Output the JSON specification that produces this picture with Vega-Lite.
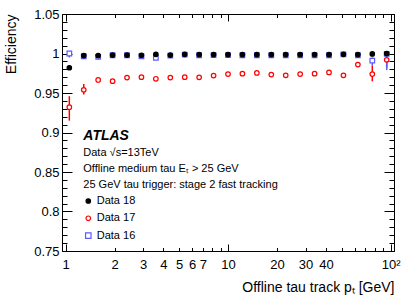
{
  "$schema": "https://vega.github.io/schema/vega-lite/v6.json",
  "width": 332,
  "height": 237,
  "autosize": {"type": "none"},
  "padding": {"left": 62, "top": 14, "right": 21, "bottom": 47},
  "config": {
    "view": {"stroke": null},
    "font": "Liberation Sans",
    "axis": {"grid": false, "domainColor": "black", "tickColor": "black", "labelColor": "black", "titleColor": "black", "domainWidth": 1, "tickWidth": 1, "labelFont": "Liberation Sans", "titleFont": "Liberation Sans", "titleFontWeight": "normal", "labelOverlap": false, "labelFlush": false}
  },
  "data": {"values": [
    {"series": "Data 17", "pt": 1.054, "eff": 0.932, "lo": 0.915, "hi": 0.946},
    {"series": "Data 17", "pt": 1.293, "eff": 0.954, "lo": 0.948, "hi": 0.9615},
    {"series": "Data 17", "pt": 1.586, "eff": 0.9665},
    {"series": "Data 17", "pt": 1.946, "eff": 0.965},
    {"series": "Data 17", "pt": 2.387, "eff": 0.9695},
    {"series": "Data 17", "pt": 2.929, "eff": 0.970},
    {"series": "Data 17", "pt": 3.593, "eff": 0.968},
    {"series": "Data 17", "pt": 4.409, "eff": 0.9695},
    {"series": "Data 17", "pt": 5.409, "eff": 0.970},
    {"series": "Data 17", "pt": 6.636, "eff": 0.9698},
    {"series": "Data 17", "pt": 8.142, "eff": 0.972},
    {"series": "Data 17", "pt": 9.99, "eff": 0.974},
    {"series": "Data 17", "pt": 12.25, "eff": 0.9745},
    {"series": "Data 17", "pt": 15.03, "eff": 0.9754},
    {"series": "Data 17", "pt": 18.45, "eff": 0.9733},
    {"series": "Data 17", "pt": 22.63, "eff": 0.9724},
    {"series": "Data 17", "pt": 27.77, "eff": 0.974},
    {"series": "Data 17", "pt": 34.07, "eff": 0.9745},
    {"series": "Data 17", "pt": 41.8, "eff": 0.976},
    {"series": "Data 17", "pt": 51.28, "eff": 0.9724},
    {"series": "Data 17", "pt": 62.92, "eff": 0.986},
    {"series": "Data 17", "pt": 77.2, "eff": 0.974, "lo": 0.9648, "hi": 0.985},
    {"series": "Data 17", "pt": 94.69, "eff": 0.992, "lo": 0.982, "hi": 0.9965},
    {"series": "Data 16", "pt": 1.054, "eff": 1.0, "lo": 0.995, "hi": 1.0},
    {"series": "Data 16", "pt": 1.293, "eff": 0.9965},
    {"series": "Data 16", "pt": 1.586, "eff": 0.9957},
    {"series": "Data 16", "pt": 1.946, "eff": 0.9978},
    {"series": "Data 16", "pt": 2.387, "eff": 0.9978},
    {"series": "Data 16", "pt": 2.929, "eff": 0.9965},
    {"series": "Data 16", "pt": 3.593, "eff": 0.9944},
    {"series": "Data 16", "pt": 4.409, "eff": 0.9974},
    {"series": "Data 16", "pt": 5.409, "eff": 0.9986},
    {"series": "Data 16", "pt": 6.636, "eff": 0.9978},
    {"series": "Data 16", "pt": 8.142, "eff": 0.998},
    {"series": "Data 16", "pt": 9.99, "eff": 0.998},
    {"series": "Data 16", "pt": 12.25, "eff": 0.9978},
    {"series": "Data 16", "pt": 15.03, "eff": 0.9978},
    {"series": "Data 16", "pt": 18.45, "eff": 0.9978},
    {"series": "Data 16", "pt": 22.63, "eff": 0.9978},
    {"series": "Data 16", "pt": 27.77, "eff": 0.9978},
    {"series": "Data 16", "pt": 34.07, "eff": 0.9978},
    {"series": "Data 16", "pt": 41.8, "eff": 0.9978},
    {"series": "Data 16", "pt": 51.28, "eff": 0.9988},
    {"series": "Data 16", "pt": 62.92, "eff": 0.9978},
    {"series": "Data 16", "pt": 77.2, "eff": 0.991, "lo": 0.985, "hi": 0.995},
    {"series": "Data 16", "pt": 94.69, "eff": 0.9995, "lo": 0.979, "hi": 1.0},
    {"series": "Data 18", "pt": 1.054, "eff": 0.982},
    {"series": "Data 18", "pt": 1.293, "eff": 0.9974},
    {"series": "Data 18", "pt": 1.586, "eff": 0.9974},
    {"series": "Data 18", "pt": 1.946, "eff": 0.998},
    {"series": "Data 18", "pt": 2.387, "eff": 0.998},
    {"series": "Data 18", "pt": 2.929, "eff": 0.9978},
    {"series": "Data 18", "pt": 3.593, "eff": 0.999},
    {"series": "Data 18", "pt": 4.409, "eff": 0.998},
    {"series": "Data 18", "pt": 5.409, "eff": 0.999},
    {"series": "Data 18", "pt": 6.636, "eff": 0.9986},
    {"series": "Data 18", "pt": 8.142, "eff": 0.9986},
    {"series": "Data 18", "pt": 9.99, "eff": 0.9986},
    {"series": "Data 18", "pt": 12.25, "eff": 0.9986},
    {"series": "Data 18", "pt": 15.03, "eff": 0.9986},
    {"series": "Data 18", "pt": 18.45, "eff": 0.9986},
    {"series": "Data 18", "pt": 22.63, "eff": 0.9986},
    {"series": "Data 18", "pt": 27.77, "eff": 0.9986},
    {"series": "Data 18", "pt": 34.07, "eff": 0.9986},
    {"series": "Data 18", "pt": 41.8, "eff": 0.9986},
    {"series": "Data 18", "pt": 51.28, "eff": 0.999},
    {"series": "Data 18", "pt": 62.92, "eff": 0.9986},
    {"series": "Data 18", "pt": 77.2, "eff": 0.9995},
    {"series": "Data 18", "pt": 94.69, "eff": 1.0}
  ]},
  "layer": [
    {
      "transform": [{"filter": "isValid(datum.lo)"}],
      "mark": {"type": "rule", "strokeWidth": 1.5},
      "encoding": {
        "x": {"field": "pt", "type": "quantitative",
          "scale": {"type": "log", "domain": [0.95, 105], "nice": false},
          "axis": {"orient": "bottom", "values": [1,2,3,4,5,6,7,8,9,10,20,30,40,50,60,70,80,90,100], "tickSize": -3.5, "labelPadding": 10.5, "labelFontSize": 13,
            "labelExpr": "datum.value == 100 ? '10²' : (indexof([1,2,3,4,5,6,7,10,20,30,40], datum.value) >= 0 ? '' + datum.value : '')",
            "title": "Offline tau track pₜ [GeV]", "titleAnchor": "end", "titleFontSize": 14, "titlePadding": 9}},
        "y": {"field": "lo", "type": "quantitative",
          "scale": {"domain": [0.75, 1.05], "nice": false, "zero": false},
          "axis": {"orient": "left", "values": [0.75, 0.8, 0.85, 0.9, 0.95, 1, 1.05], "format": "~g", "tickSize": -10, "labelPadding": 13, "labelFontSize": 13,
            "title": "Efficiency", "titleAnchor": "end", "titleFontSize": 14, "titlePadding": 15}},
        "y2": {"field": "hi"},
        "stroke": {"field": "series", "type": "nominal", "legend": null,
          "scale": {"domain": ["Data 18", "Data 17", "Data 16"], "range": ["#000000", "#ff0000", "#5b5bff"]}}
      }
    },
    {
      "mark": {"type": "point", "filled": true, "opacity": 1, "strokeWidth": 1.2},
      "encoding": {
        "x": {"field": "pt", "type": "quantitative",
          "axis": {"orient": "bottom", "values": [1, 10, 100], "tickSize": -7, "labels": false, "title": null}},
        "y": {"field": "eff", "type": "quantitative",
          "axis": {"orient": "left", "values": [0.76,0.77,0.78,0.79,0.81,0.82,0.83,0.84,0.86,0.87,0.88,0.89,0.91,0.92,0.93,0.94,0.96,0.97,0.98,0.99,1.01,1.02,1.03,1.04], "tickSize": -5, "labels": false, "title": null}},
        "stroke": {"field": "series", "type": "nominal", "legend": null},
        "fill": {"field": "series", "type": "nominal", "legend": null,
          "scale": {"domain": ["Data 18", "Data 17", "Data 16"], "range": ["#000000", "#ffffff", "#ffffff"]}},
        "shape": {"field": "series", "type": "nominal", "legend": null,
          "scale": {"domain": ["Data 18", "Data 17", "Data 16"], "range": ["circle", "circle", "square"]}},
        "size": {"field": "series", "type": "nominal", "legend": null,
          "scale": {"domain": ["Data 18", "Data 17", "Data 16"], "range": [20, 21, 30]}}
      }
    },
    {
      "data": {"values": [{}]},
      "mark": {"type": "text", "font": "Liberation Sans", "fontSize": 14, "fontWeight": "bold", "fontStyle": "italic", "align": "left", "baseline": "alphabetic", "color": "black"},
      "encoding": {
        "x": {"datum": 1.285, "type": "quantitative",
          "axis": {"orient": "top", "values": [1,2,3,4,5,6,7,8,9,10,20,30,40,50,60,70,80,90,100], "tickSize": -3.5, "labels": false, "title": null}},
        "y": {"datum": 0.8905, "type": "quantitative",
          "axis": {"orient": "right", "values": [0.75, 0.8, 0.85, 0.9, 0.95, 1, 1.05], "tickSize": -10, "labels": false, "title": null}},
        "text": {"value": "ATLAS"}
      }
    },
    {
      "data": {"values": [{}]},
      "mark": {"type": "text", "font": "Liberation Sans", "fontSize": 11, "align": "left", "baseline": "alphabetic", "lineHeight": 16.2, "color": "black"},
      "encoding": {
        "x": {"datum": 1.285, "type": "quantitative",
          "axis": {"orient": "top", "values": [1, 10, 100], "tickSize": -7, "labels": false, "title": null}},
        "y": {"datum": 0.8703, "type": "quantitative",
          "axis": {"orient": "right", "values": [0.76,0.77,0.78,0.79,0.81,0.82,0.83,0.84,0.86,0.87,0.88,0.89,0.91,0.92,0.93,0.94,0.96,0.97,0.98,0.99,1.01,1.02,1.03,1.04], "tickSize": -5, "labels": false, "title": null}},
        "text": {"value": ["Data √s=13TeV", "Offline medium tau Eₜ > 25 GeV", "25 GeV tau trigger: stage 2 fast tracking"]}
      }
    },
    {
      "data": {"values": [{}]},
      "mark": {"type": "text", "font": "Liberation Sans", "fontSize": 11, "align": "left", "baseline": "alphabetic", "lineHeight": 17.5, "color": "black"},
      "encoding": {
        "x": {"datum": 1.554, "type": "quantitative", "axis": null},
        "y": {"datum": 0.8095, "type": "quantitative", "axis": null},
        "text": {"value": ["Data 18", "Data 17", "Data 16"]}
      }
    },
    {
      "data": {"values": [{}]},
      "mark": {"type": "point", "shape": "circle", "filled": true, "opacity": 1, "size": 20, "strokeWidth": 1.2, "fill": "#000000", "stroke": "#000000"},
      "encoding": {
        "x": {"datum": 1.379, "type": "quantitative", "axis": null},
        "y": {"datum": 0.8133, "type": "quantitative", "axis": null}
      }
    },
    {
      "data": {"values": [{}]},
      "mark": {"type": "point", "shape": "circle", "filled": true, "opacity": 1, "size": 21, "strokeWidth": 1.2, "fill": "#ffffff", "stroke": "#ff0000"},
      "encoding": {
        "x": {"datum": 1.379, "type": "quantitative", "axis": null},
        "y": {"datum": 0.7914, "type": "quantitative", "axis": null}
      }
    },
    {
      "data": {"values": [{}]},
      "mark": {"type": "point", "shape": "square", "filled": true, "opacity": 1, "size": 30, "strokeWidth": 1.2, "fill": "#ffffff", "stroke": "#5b5bff"},
      "encoding": {
        "x": {"datum": 1.379, "type": "quantitative", "axis": null},
        "y": {"datum": 0.7694, "type": "quantitative", "axis": null}
      }
    }
  ],
  "resolve": {"axis": {"x": "independent", "y": "independent"}}
}
